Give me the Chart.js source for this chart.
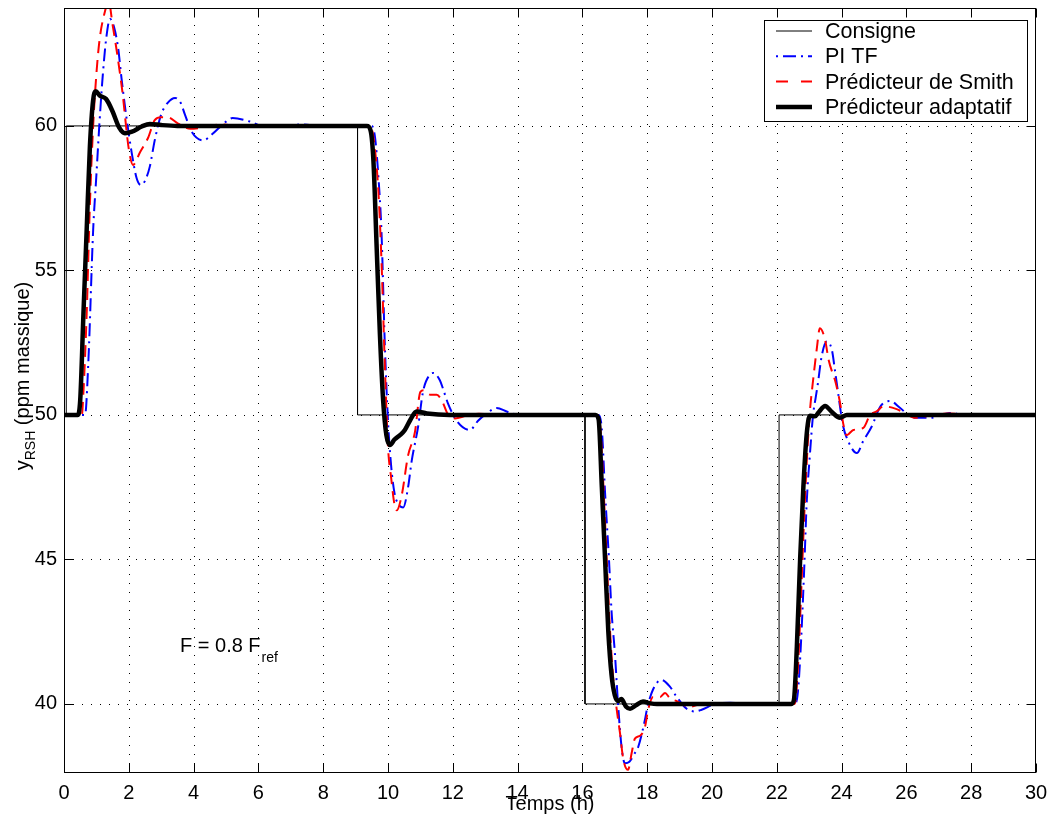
<!DOCTYPE html>
<html><head><meta charset="utf-8">
<script src="https://cdn.jsdelivr.net/npm/chart.js@4.4.0/dist/chart.umd.min.js"></script>
<style>html,body{margin:0;padding:0;background:#fff;}</style>
</head><body>
<canvas id="c" width="1052" height="821"></canvas>
<script>
const FONT = '"Liberation Sans", Arial, Helvetica, sans-serif';

// ---- data ----
const xTicks = [0,2,4,6,8,10,12,14,16,18,20,22,24,26,28,30];
const yTicks = [40,45,50,55,60];
const seriesNames = ['Consigne','PI TF','Prédicteur de Smith','Prédicteur adaptatif'];
const xTitle = 'Temps (h)';
const yTitleMain = 'y', yTitleSub = 'RSH', yTitleRest = ' (ppm massique)';
const noteMain = 'F = 0.8 F', noteSub = 'ref';

const consigne = [[0,50],[0.07,50],[0.07,60],[9.06,60],[9.06,50],[16.08,50],[16.08,40],[22.07,40],[22.07,50],[30,50]];

const piTF = [[0,50],[0.65,50],[0.75,51.8],[0.9,56.4],[1.0,58.3],[1.1,60.2],[1.2,61.8],[1.3,63.0],[1.42,63.7],[1.55,63.4],[1.67,62.7],[1.78,61.6],[1.93,60.27],[2.09,59.07],[2.24,58.2],[2.38,57.95],[2.5,58.1],[2.65,58.6],[2.8,59.5],[3.0,60.4],[3.2,60.8],[3.43,60.97],[3.6,60.8],[3.73,60.4],[3.94,59.8],[4.3,59.5],[4.56,59.7],[5.0,60.15],[5.2,60.27],[5.74,60.15],[6.2,59.97],[6.8,59.97],[7.3,60.05],[8.0,60],[9.5,60],[9.6,59.6],[9.7,58.3],[9.8,56.3],[9.9,52.5],[10.0,49.8],[10.1,48.2],[10.2,47.3],[10.3,46.95],[10.47,46.8],[10.62,47.5],[10.73,48.4],[10.93,49.6],[11.08,50.8],[11.3,51.4],[11.4,51.45],[11.6,51.2],[11.7,50.9],[11.85,50.4],[12.12,49.8],[12.53,49.48],[12.78,49.8],[13.1,50.1],[13.35,50.24],[13.7,50.1],[14.2,49.97],[15.0,50],[16.5,50],[16.6,49.5],[16.7,47.3],[16.82,45.0],[16.9,43.2],[17.0,41.8],[17.1,40.0],[17.21,38.5],[17.31,37.95],[17.45,38.0],[17.62,38.3],[17.72,38.5],[17.93,39.45],[18.0,39.86],[18.18,40.5],[18.44,40.83],[18.7,40.6],[18.9,40.26],[19.2,39.85],[19.47,39.74],[19.68,39.8],[20.1,40.0],[20.56,40.04],[21.0,40],[22.55,40],[22.65,40.4],[22.75,42.2],[22.85,44.8],[22.92,46.9],[23.02,48.6],[23.12,50.0],[23.2,50.6],[23.27,51.1],[23.38,52.0],[23.54,52.54],[23.7,52.25],[23.8,51.5],[23.9,50.7],[24.04,49.65],[24.2,49.1],[24.47,48.68],[24.67,49.1],[24.93,49.6],[25.2,50.3],[25.5,50.48],[25.8,50.25],[26.2,49.9],[26.73,49.9],[27.35,50.07],[27.8,50.0],[30,50]];

const smith = [[0,50],[0.55,50],[0.6,50.8],[0.7,53.5],[0.8,57.3],[0.9,60],[1.0,61.8],[1.1,63],[1.25,63.9],[1.38,64.3],[1.5,63.5],[1.6,62.8],[1.8,61.2],[2.0,59.2],[2.13,58.65],[2.35,59.1],[2.6,59.6],[2.8,60.2],[3.0,60.3],[3.2,60.3],[3.5,60.1],[3.9,59.9],[4.3,59.95],[4.8,60.05],[5.5,60],[9.45,60],[9.55,59.6],[9.7,57.8],[9.8,55.3],[9.9,51.8],[10.0,48.9],[10.1,47.8],[10.2,46.9],[10.27,46.7],[10.42,47.2],[10.62,48.6],[10.83,49.4],[11.0,50.8],[11.1,50.85],[11.3,50.7],[11.5,50.7],[11.66,50.5],[11.86,50.0],[12.07,49.88],[12.4,49.97],[12.8,50.04],[13.3,50],[16.45,50],[16.55,49.6],[16.65,47.5],[16.75,45],[16.85,42.6],[16.95,40.9],[17.06,39.8],[17.16,39.0],[17.26,38.1],[17.41,37.72],[17.52,38.3],[17.62,38.8],[17.78,38.9],[17.93,39.2],[18.03,39.8],[18.18,40.24],[18.4,40.24],[18.55,40.38],[18.7,40.2],[18.9,40.1],[19.3,39.9],[19.7,40.0],[20.0,40],[22.55,40],[22.65,41.2],[22.75,43.8],[22.85,46.6],[22.95,48.9],[23.02,50.1],[23.12,51.2],[23.23,52.25],[23.33,53.0],[23.49,52.6],[23.6,51.9],[23.82,51.1],[23.97,50.3],[24.05,49.7],[24.16,49.3],[24.36,49.48],[24.67,49.55],[24.88,50.0],[25.08,50.12],[25.3,50.3],[25.7,50.2],[26.3,49.9],[26.8,50.0],[27.3,50.05],[28,50],[30,50]];

const adaptatif = [[0,50],[0.42,50],[0.5,50.5],[0.6,53.5],[0.7,56.4],[0.8,59.3],[0.9,60.9],[0.98,61.2],[1.1,61.05],[1.3,60.93],[1.5,60.5],[1.7,59.95],[1.88,59.75],[2.1,59.8],[2.4,59.98],[2.65,60.07],[3.0,60.03],[3.5,60],[9.35,60],[9.46,59.85],[9.55,58.8],[9.65,55.8],[9.75,52.8],[9.85,50.5],[9.95,49.3],[10.06,48.96],[10.2,49.15],[10.37,49.3],[10.52,49.48],[10.7,49.85],[10.88,50.12],[11.2,50.05],[11.9,50],[16.4,50],[16.5,49.85],[16.6,47.5],[16.7,45],[16.8,42.5],[16.9,41],[17.0,40.3],[17.1,40.1],[17.2,40.17],[17.35,39.9],[17.47,39.83],[17.65,39.95],[17.87,40.08],[18.1,40.02],[18.3,40],[22.45,40],[22.53,40.15],[22.62,42],[22.72,45],[22.82,47.5],[22.92,49.3],[23.02,49.97],[23.18,49.95],[23.3,50.1],[23.49,50.31],[23.7,50.1],[23.95,49.9],[24.16,50.0],[30,50]];

const xRange = [0, 30];
const yRange = [37.61, 64.08];

// ---- helpers ----
const toPts = arr => arr.map(p => ({x: p[0], y: p[1]}));

const styles = [
  {color:'#000000', width:1,   dash:[],           legendDash:[],        legendOffset:0, smooth:false},
  {color:'#0000ff', width:2,   dash:[13,5,2,5],   legendDash:[13,5,2,5], legendOffset:18, smooth:true},
  {color:'#ff0000', width:2,   dash:[12,7],       legendDash:[12,13],    legendOffset:0, smooth:true},
  {color:'#000000', width:4.5, dash:[],           legendDash:[],        legendOffset:0, smooth:true}
];
const seriesData = [consigne, piTF, smith, adaptatif];
const drawOrder = [3, 2, 1, 0];

const datasets = seriesData.map((d, i) => ({
  label: seriesNames[i],
  data: toPts(d),
  borderColor: styles[i].color,
  borderWidth: styles[i].width,
  borderDash: styles[i].dash,
  pointRadius: 0,
  fill: false,
  tension: 0,
  cubicInterpolationMode: styles[i].smooth ? 'monotone' : 'default',
  order: drawOrder[i],
  clip: 0,
  borderCapStyle: 'butt',
  borderJoinStyle: 'round'
}));

const zeroPad = s => { s.paddingTop = 0; s.paddingBottom = 0; s.paddingLeft = 0; s.paddingRight = 0; };

const framePlugin = {
  id: 'frame',
  beforeDatasetsDraw(chart) {
    const {ctx, chartArea: ca, scales: {x, y}} = chart;
    ctx.save();
    ctx.strokeStyle = '#000';
    ctx.lineWidth = 1;
    ctx.setLineDash([1, 8]);
    xTicks.forEach(v => {
      if (v <= xRange[0] || v >= xRange[1]) return;
      const px = Math.round(x.getPixelForValue(v)) + 0.5;
      ctx.beginPath(); ctx.moveTo(px, ca.bottom); ctx.lineTo(px, ca.top); ctx.stroke();
    });
    yTicks.forEach(v => {
      const py = Math.round(y.getPixelForValue(v)) + 0.5;
      ctx.beginPath(); ctx.moveTo(ca.left, py); ctx.lineTo(ca.right, py); ctx.stroke();
    });
    ctx.restore();
  },
  afterDatasetsDraw(chart) {
    const {ctx, chartArea: ca, scales: {x, y}} = chart;
    const L = Math.round(ca.left) + 0.5, R = Math.round(ca.right) - 0.5;
    const T = Math.round(ca.top) + 0.5, B = Math.round(ca.bottom) - 0.5;
    ctx.save();
    ctx.strokeStyle = '#000';
    ctx.lineWidth = 1;
    ctx.setLineDash([]);
    ctx.strokeRect(L, T, R - L, B - T);
    const tl = 9;
    xTicks.forEach(v => {
      const px = Math.round(x.getPixelForValue(v)) + 0.5;
      ctx.beginPath();
      ctx.moveTo(px, B); ctx.lineTo(px, B - tl);
      ctx.moveTo(px, T); ctx.lineTo(px, T + tl);
      ctx.stroke();
    });
    yTicks.forEach(v => {
      const py = Math.round(y.getPixelForValue(v)) + 0.5;
      ctx.beginPath();
      ctx.moveTo(L, py); ctx.lineTo(L + tl, py);
      ctx.moveTo(R, py); ctx.lineTo(R - tl, py);
      ctx.stroke();
    });

    // legend
    const lg = {x: 764, y: 20, w: 263, h: 101, row0: 31, rowH: 25.3, lx0: 776, lx1: 812, tx: 825};
    ctx.fillStyle = '#fff';
    ctx.fillRect(lg.x, lg.y, lg.w, lg.h);
    ctx.strokeRect(lg.x + 0.5, lg.y + 0.5, lg.w, lg.h);
    ctx.font = '21.5px ' + FONT;
    ctx.textBaseline = 'middle';
    ctx.textAlign = 'left';
    seriesNames.forEach((name, i) => {
      const ry = lg.row0 + i * lg.rowH;
      ctx.save();
      ctx.strokeStyle = styles[i].color;
      ctx.lineWidth = styles[i].width;
      ctx.setLineDash(styles[i].legendDash);
      ctx.lineDashOffset = styles[i].legendOffset;
      ctx.beginPath(); ctx.moveTo(lg.lx0, ry); ctx.lineTo(lg.lx1, ry); ctx.stroke();
      ctx.restore();
      ctx.fillStyle = '#000';
      ctx.fillText(name, lg.tx, ry + 1);
    });

    // annotation
    ctx.textBaseline = 'alphabetic';
    ctx.font = '20px ' + FONT;
    ctx.fillStyle = '#000';
    ctx.fillText(noteMain, 180, 652);
    const nw = ctx.measureText(noteMain).width;
    ctx.font = '14px ' + FONT;
    ctx.fillText(noteSub, 180 + nw + 1, 662);

    // x title
    ctx.font = '20px ' + FONT;
    ctx.textAlign = 'center';
    ctx.fillText(xTitle, (ca.left + ca.right) / 2, 810);

    // y title
    ctx.save();
    ctx.translate(29, 376);
    ctx.rotate(-Math.PI / 2);
    ctx.textAlign = 'left';
    ctx.font = '20px ' + FONT;
    const w1 = ctx.measureText(yTitleMain).width;
    const w3 = ctx.measureText(yTitleRest).width;
    ctx.font = '14px ' + FONT;
    const w2 = ctx.measureText(yTitleSub).width;
    const s = -(w1 + w2 + w3) / 2;
    ctx.font = '20px ' + FONT;
    ctx.fillText(yTitleMain, s, 0);
    ctx.font = '14px ' + FONT;
    ctx.fillText(yTitleSub, s + w1, 6);
    ctx.font = '20px ' + FONT;
    ctx.fillText(yTitleRest, s + w1 + w2, 0);
    ctx.restore();

    ctx.restore();
  }
};

new Chart(document.getElementById('c'), {
  type: 'line',
  data: {datasets},
  options: {
    responsive: false,
    animation: false,
    devicePixelRatio: 1,
    layout: {padding: {top: 8, right: 16, left: 0, bottom: 0}},
    plugins: {legend: {display: false}, title: {display: false}, tooltip: {enabled: false}},
    scales: {
      x: {
        type: 'linear', min: xRange[0], max: xRange[1],
        grid: {display: false, drawTicks: false},
        border: {display: false},
        afterFit: s => { s.height = 48; zeroPad(s); },
        afterBuildTicks: s => { s.ticks = xTicks.map(v => ({value: v})); },
        ticks: {autoSkip: false, maxRotation: 0, padding: 8, color: '#000',
                font: {family: FONT, size: 20}}
      },
      y: {
        type: 'linear', min: yRange[0], max: yRange[1],
        grid: {display: false, drawTicks: false},
        border: {display: false},
        afterFit: s => { s.width = 64; zeroPad(s); },
        afterBuildTicks: s => { s.ticks = yTicks.map(v => ({value: v})); },
        ticks: {padding: 7, color: '#000', font: {family: FONT, size: 20}}
      }
    }
  },
  plugins: [framePlugin]
});
</script>
</body></html>
